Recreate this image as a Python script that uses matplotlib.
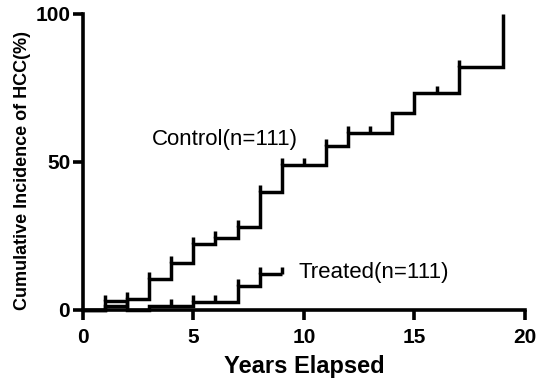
import numpy as np
import matplotlib
matplotlib.use("Agg")
import matplotlib.pyplot as plt

plt.rcParams['font.family'] = ['Liberation Sans', 'DejaVu Sans']

# Kaplan-Meier style cumulative incidence (step after each time)
control_times = [0, 1, 2, 3, 4, 5, 6, 7, 8, 9, 11, 12, 14, 15, 17, 19]
control_cum = [0, 1.2, 3.7, 10.5, 15.9, 22.4, 24.3, 28.2, 39.9, 48.9, 55.4, 59.9, 66.4, 73.4, 82.2, 100]
control_censored = [2, 3, 4, 5, 6, 7, 8, 9, 10, 11, 12, 13, 16, 17]

treated_times = [0, 1, 2, 3, 5, 7, 8, 9]
treated_cum = [0, 2.9, 0, 1.4, 2.6, 8.2, 12.2, 12.2]
treated_censored = [1, 4, 5, 6, 7, 8, 9]

x_ticks = [0, 5, 10, 15, 20]
y_ticks = [0, 50, 100]

LW = 2.5
TICK_H = 2.3  # censor mark height in %


def level_at(times, cum, t):
    i = np.searchsorted(times, t, side="right") - 1
    return cum[i]


def draw_curve(ax, times, cum, censored):
    ax.step(times, cum, where="post", color="black", lw=LW, clip_on=False,
            solid_joinstyle="miter", solid_capstyle="butt")
    for t in censored:
        y = level_at(times, cum, t)
        ax.plot([t, t], [y, y + TICK_H], color="black", lw=LW, clip_on=False,
                solid_capstyle="butt")


fig = plt.figure(figsize=(5.43, 3.82), dpi=100)
ax = fig.add_axes([0.1523, 0.1885, 0.8146, 0.7749])

draw_curve(ax, control_times, control_cum, control_censored)
draw_curve(ax, treated_times, treated_cum, treated_censored)

ax.text(3.12, 55.9, "Control(n=111)", fontsize=16, va="baseline", ha="left")
ax.text(9.76, 10.7, "Treated(n=111)", fontsize=16, va="baseline", ha="left")

ax.set_xlim(0, 20)
ax.set_ylim(0, 100)
ax.set_xticks(x_ticks)
ax.set_yticks(y_ticks)
for s in ["top", "right"]:
    ax.spines[s].set_visible(False)
for s in ["left", "bottom"]:
    ax.spines[s].set_linewidth(2.6)
ax.tick_params(width=2.6, length=7, labelsize=15, direction="out")
ax.tick_params(axis="x", pad=6)
ax.tick_params(axis="y", pad=2)
for lab in ax.get_xticklabels() + ax.get_yticklabels():
    lab.set_fontweight("bold")

ax.set_xlabel("Years Elapsed", fontsize=17, fontweight="bold", labelpad=6)
ax.set_ylabel("Cumulative Incidence of HCC(%)", fontsize=13, fontweight="bold", labelpad=8)
ax.yaxis.set_label_coords(-0.118, 0.47)

fig.savefig("out.png", dpi=100)
